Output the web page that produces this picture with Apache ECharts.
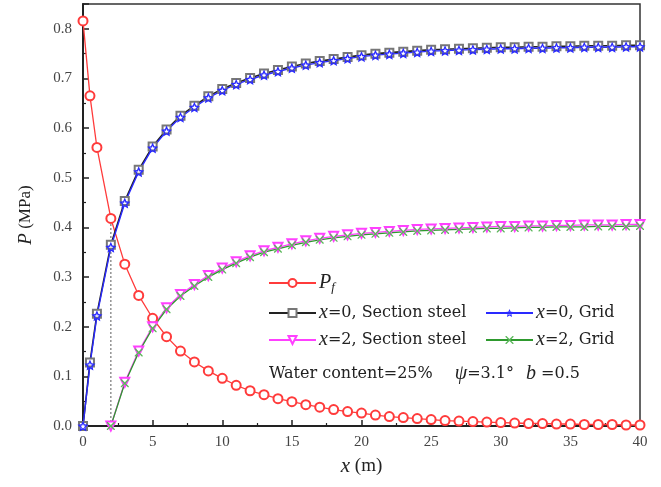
<!DOCTYPE html>
<html>
<head>
<meta charset="utf-8">
<script src="https://cdn.jsdelivr.net/npm/echarts@6/dist/echarts.min.js"></script>
<style>
  html, body { margin: 0; padding: 0; background: #fff; }
  #main { width: 661px; height: 487px; }
</style>
</head>
<body>
<div id="main"></div>
<script>
// x positions (m)
var xFull = [0, 0.5, 1, 2, 3, 4, 5, 6, 7, 8, 9, 10, 11, 12, 13, 14, 15, 16, 17, 18, 19, 20,
  21, 22, 23, 24, 25, 26, 27, 28, 29, 30, 31, 32, 33, 34, 35, 36, 37, 38, 39, 40];
var xFrom2 = [2, 3, 4, 5, 6, 7, 8, 9, 10, 11, 12, 13, 14, 15, 16, 17, 18, 19, 20,
  21, 22, 23, 24, 25, 26, 27, 28, 29, 30, 31, 32, 33, 34, 35, 36, 37, 38, 39, 40];

// P (MPa)
var pf = [0.816, 0.665, 0.561, 0.418, 0.326, 0.263, 0.217, 0.180, 0.151, 0.129, 0.111, 0.096,
  0.082, 0.071, 0.063, 0.055, 0.049, 0.043, 0.038, 0.033, 0.029, 0.026, 0.022, 0.019, 0.017,
  0.015, 0.013, 0.011, 0.010, 0.009, 0.008, 0.007, 0.006, 0.005, 0.005, 0.004, 0.004, 0.003,
  0.003, 0.003, 0.002, 0.002];
var x0Steel = [0, 0.128, 0.226, 0.365, 0.453, 0.516, 0.563, 0.597, 0.625, 0.645, 0.664, 0.679,
  0.691, 0.701, 0.710, 0.717, 0.724, 0.730, 0.735, 0.739, 0.743, 0.747, 0.750, 0.752, 0.754,
  0.756, 0.758, 0.759, 0.760, 0.761, 0.762, 0.763, 0.763, 0.764, 0.764, 0.765, 0.765, 0.766,
  0.766, 0.766, 0.767, 0.767];
var x0Grid = [0, 0.123, 0.222, 0.360, 0.449, 0.512, 0.560, 0.594, 0.622, 0.642, 0.661, 0.676,
  0.688, 0.698, 0.707, 0.714, 0.721, 0.727, 0.732, 0.736, 0.740, 0.744, 0.747, 0.749, 0.751,
  0.753, 0.755, 0.756, 0.757, 0.758, 0.759, 0.760, 0.760, 0.761, 0.761, 0.762, 0.762, 0.763,
  0.763, 0.763, 0.764, 0.764];
var x2Steel = [0, 0.088, 0.151, 0.200, 0.238, 0.265, 0.285, 0.303, 0.318, 0.331, 0.343, 0.353,
  0.360, 0.367, 0.373, 0.378, 0.382, 0.385, 0.388, 0.390, 0.392, 0.394, 0.396, 0.397, 0.398,
  0.399, 0.400, 0.401, 0.402, 0.402, 0.403, 0.403, 0.404, 0.404, 0.405, 0.405, 0.405, 0.406,
  0.406];
var x2Grid = [0, 0.086, 0.148, 0.197, 0.235, 0.262, 0.282, 0.300, 0.315, 0.328, 0.340, 0.350,
  0.357, 0.364, 0.370, 0.375, 0.379, 0.382, 0.385, 0.387, 0.389, 0.391, 0.393, 0.394, 0.395,
  0.396, 0.397, 0.398, 0.398, 0.399, 0.400, 0.400, 0.401, 0.401, 0.401, 0.402, 0.402, 0.402,
  0.403];

var names = ['Pf', 'x=0, Section steel', 'x=0, Grid', 'x=2, Section steel', 'x=2, Grid'];

function pairs(xs, ys) {
  return xs.map(function (x, i) { return [x, ys[i]]; });
}

// hollow star: outer outline one way, inner outline the other way (leaves a hole)
function starRing(R, r, reverse) {
  var pts = [];
  for (var k = 0; k < 10; k++) {
    var a = -Math.PI / 2 + k * Math.PI / 5;
    var rad = k % 2 ? r : R;
    pts.push((50 + rad * Math.cos(a)).toFixed(1) + ',' + (55 + rad * Math.sin(a)).toFixed(1));
  }
  if (reverse) pts.reverse();
  return 'M' + pts.join(' L') + ' Z';
}
var starPath = 'path://' + starRing(50, 24, false) + ' ' + starRing(24, 10, true);
var crossPath = 'path://M0,0 L12,0 L50,38 L88,0 L100,0 L100,12 L62,50 L100,88 L100,100 L88,100 L50,62 L12,100 L0,100 L0,88 L38,50 L0,12 Z';

var serif = 'Liberation Serif';
var legendFont = 'DejaVu Serif';
var blue = '#2a2aff';

var legendRich = {
  i: { fontFamily: serif, fontStyle: 'italic', fontSize: 20, color: '#222' },
  s: { fontFamily: serif, fontStyle: 'italic', fontSize: 13, color: '#222', padding: [10, 0, 0, 0] },
  n: { fontFamily: legendFont, fontSize: 16, color: '#222' }
};

function legendLabel(name) {
  if (name === 'Pf') return '{i|P}{s|f}';
  var m = name.split('=');
  return '{i|' + m[0] + '}{n|=' + m[1] + '}';
}

function oneLegend(item, left, top) {
  return {
    data: [item], left: left, top: top, itemWidth: 47, itemHeight: 10,
    itemGap: 0, padding: 0, formatter: legendLabel,
    textStyle: { rich: legendRich, padding: [0, 0, 0, -2] }
  };
}

var chart = echarts.init(document.getElementById('main'));
chart.setOption({
  backgroundColor: '#fff',
  animation: false,
  grid: { left: 83, right: 21, top: 4, bottom: 61, show: true, borderColor: '#333', borderWidth: 1.5 },
  legend: [
    oneLegend(names[0], 268, 273),
    oneLegend(names[1], 268, 303),
    oneLegend(names[2], 485, 303),
    oneLegend(names[3], 268, 330),
    oneLegend(names[4], 485, 330)
  ],
  graphic: [{
    type: 'text', left: 269, top: 364,
    style: {
      text: '{n|Water content=25%}{g|ψ}{n|=3.1°}{h|b}{n| =0.5}',
      rich: {
        n: { fontFamily: legendFont, fontSize: 16, fill: '#222' },
        g: { fontFamily: serif, fontStyle: 'italic', fontSize: 20, fill: '#222', padding: [0, 0, 0, 22] },
        h: { fontFamily: serif, fontStyle: 'italic', fontSize: 20, fill: '#222', padding: [0, 0, 0, 12] }
      }
    }
  }],
  xAxis: {
    type: 'value', min: 0, max: 40, interval: 5,
    name: '{i|x} (m)', nameLocation: 'middle', nameGap: 30,
    nameTextStyle: {
      fontFamily: serif, fontSize: 19, color: '#222',
      rich: { i: { fontFamily: serif, fontStyle: 'italic', fontSize: 21, color: '#222' } }
    },
    axisLine: { lineStyle: { color: '#222', width: 2 } },
    axisTick: { inside: true, length: 6, lineStyle: { color: '#222', width: 1.5 } },
    minorTick: { show: true, splitNumber: 2, length: 3, lineStyle: { color: '#222', width: 1.2 } },
    axisLabel: { margin: 9, fontFamily: serif, fontSize: 15, color: '#444' },
    splitLine: { show: false }
  },
  yAxis: {
    type: 'value', min: 0, max: 0.85, interval: 0.1,
    name: '{i|P} (MPa)', nameLocation: 'middle', nameGap: 48, nameRotate: 90,
    nameTextStyle: {
      fontFamily: serif, fontSize: 17, color: '#222',
      rich: { i: { fontFamily: serif, fontStyle: 'italic', fontSize: 19, color: '#222' } }
    },
    axisLine: { lineStyle: { color: '#222', width: 2 } },
    axisTick: { inside: true, length: 6, lineStyle: { color: '#222', width: 1.5 } },
    minorTick: { show: true, splitNumber: 2, length: 3, lineStyle: { color: '#222', width: 1.2 } },
    axisLabel: {
      margin: 11, fontFamily: serif, fontSize: 15, color: '#444', showMaxLabel: false,
      formatter: function (v) { return v.toFixed(1); }
    },
    splitLine: { show: false }
  },
  series: [
    {
      name: 'guide', type: 'line', data: [[xFull[3], 0], [xFull[3], pf[3]]],
      symbol: 'none', silent: true, z: 1,
      lineStyle: { color: '#777', width: 1.2, type: [2, 2] }
    },
    {
      name: names[0], type: 'line', data: pairs(xFull, pf),
      symbol: 'emptyCircle', symbolSize: 9,
      lineStyle: { color: '#ff3b3b', width: 1.3 },
      itemStyle: { color: '#ff3b3b', borderWidth: 1.2 }
    },
    {
      name: names[1], type: 'line', data: pairs(xFull, x0Steel),
      symbol: 'emptyRect', symbolSize: 8,
      lineStyle: { color: '#222', width: 1.6 },
      itemStyle: { color: '#777', borderWidth: 1.1 }
    },
    {
      name: names[2], type: 'line', data: pairs(xFull, x0Grid),
      symbol: starPath, symbolSize: 11,
      lineStyle: { color: blue, width: 1.4 },
      itemStyle: { color: blue, borderWidth: 0 }
    },
    {
      name: names[3], type: 'line', data: pairs(xFrom2, x2Steel),
      symbol: 'emptyTriangle', symbolRotate: 180, symbolSize: 9,
      lineStyle: { color: '#ff40ff', width: 1.3 },
      itemStyle: { color: '#ff40ff', borderWidth: 1.2 }
    },
    {
      name: names[4], type: 'line', data: pairs(xFrom2, x2Grid),
      symbol: crossPath, symbolSize: 8,
      lineStyle: { color: '#2e9a2e', width: 1.3 },
      itemStyle: { color: '#5cb85c', borderWidth: 0 }
    }
  ]
});
</script>
</body>
</html>
